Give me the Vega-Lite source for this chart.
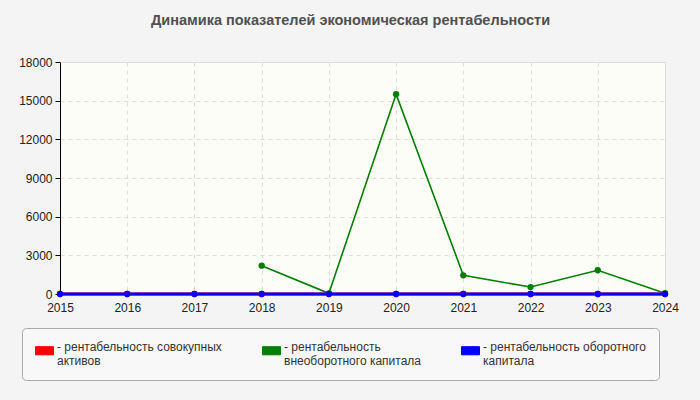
{
  "$schema": "https://vega.github.io/schema/vega-lite/v6.json",
  "autosize": {"type": "none"},
  "width": 605,
  "height": 232,
  "padding": {"left": 60, "top": 62, "right": 35, "bottom": 106},
  "background": "#f4f4f4",
  "title": {
    "text": "Динамика показателей экономическая рентабельности",
    "font": "Liberation Sans",
    "fontSize": 14.5,
    "fontWeight": "bold",
    "color": "#505050",
    "anchor": "middle",
    "dx": -12,
    "offset": 28
  },
  "data": {
    "values": [
      {"year": "2015", "series": "рентабельность совокупных активов", "value": 0},
      {"year": "2016", "series": "рентабельность совокупных активов", "value": 0},
      {"year": "2017", "series": "рентабельность совокупных активов", "value": 0},
      {"year": "2018", "series": "рентабельность совокупных активов", "value": 0},
      {"year": "2019", "series": "рентабельность совокупных активов", "value": 0},
      {"year": "2020", "series": "рентабельность совокупных активов", "value": 0},
      {"year": "2021", "series": "рентабельность совокупных активов", "value": 0},
      {"year": "2022", "series": "рентабельность совокупных активов", "value": 0},
      {"year": "2023", "series": "рентабельность совокупных активов", "value": 0},
      {"year": "2024", "series": "рентабельность совокупных активов", "value": 0},
      {"year": "2018", "series": "рентабельность внеоборотного капитала", "value": 2200},
      {"year": "2019", "series": "рентабельность внеоборотного капитала", "value": 50},
      {"year": "2020", "series": "рентабельность внеоборотного капитала", "value": 15500},
      {"year": "2021", "series": "рентабельность внеоборотного капитала", "value": 1450},
      {"year": "2022", "series": "рентабельность внеоборотного капитала", "value": 540},
      {"year": "2023", "series": "рентабельность внеоборотного капитала", "value": 1840},
      {"year": "2024", "series": "рентабельность внеоборотного капитала", "value": 60},
      {"year": "2015", "series": "рентабельность оборотного капитала", "value": 0},
      {"year": "2016", "series": "рентабельность оборотного капитала", "value": 0},
      {"year": "2017", "series": "рентабельность оборотного капитала", "value": 0},
      {"year": "2018", "series": "рентабельность оборотного капитала", "value": 0},
      {"year": "2019", "series": "рентабельность оборотного капитала", "value": 0},
      {"year": "2020", "series": "рентабельность оборотного капитала", "value": 0},
      {"year": "2021", "series": "рентабельность оборотного капитала", "value": 0},
      {"year": "2022", "series": "рентабельность оборотного капитала", "value": 0},
      {"year": "2023", "series": "рентабельность оборотного капитала", "value": 0},
      {"year": "2024", "series": "рентабельность оборотного капитала", "value": 0}
    ]
  },
  "encoding": {
    "x": {
      "field": "year",
      "type": "ordinal",
      "scale": {"type": "point", "padding": 0},
      "axis": {
        "title": null,
        "labelAngle": 0,
        "grid": true,
        "gridDash": [4, 4],
        "gridColor": "#dddddd",
        "domain": false,
        "ticks": false,
        "labelPadding": 8
      }
    },
    "y": {
      "field": "value",
      "type": "quantitative",
      "scale": {"domain": [0, 18000], "nice": false},
      "axis": {
        "title": null,
        "values": [0, 3000, 6000, 9000, 12000, 15000, 18000],
        "format": "d",
        "gridDash": [4, 4],
        "gridColor": "#dddddd",
        "domainColor": "#000000",
        "tickColor": "#000000",
        "tickSize": 5,
        "labelPadding": 3
      }
    },
    "color": {
      "field": "series",
      "type": "nominal",
      "scale": {
        "domain": ["рентабельность совокупных активов", "рентабельность внеоборотного капитала", "рентабельность оборотного капитала"],
        "range": ["#ff0000", "#008000", "#0000ff"]
      },
      "legend": {
        "title": null,
        "orient": "none",
        "legendX": -38,
        "legendY": 266,
        "direction": "horizontal",
        "columns": 3,
        "columnPadding": 38,
        "padding": 13,
        "fillColor": "#f8f8f8",
        "strokeColor": "#aaaaaa",
        "cornerRadius": 4,
        "symbolType": "M-1,-0.45H1V0.45H-1Z",
        "symbolSize": 324,
        "symbolStrokeColor": "#444444",
        "symbolStrokeWidth": 1,
        "symbolOpacity": 1,
        "labelOffset": 3,
        "labelBaseline": "alphabetic",
        "labelFont": "Liberation Sans",
        "labelFontSize": 12,
        "labelColor": "#333333",
        "labelLimit": 300,
        "labelExpr": "datum.label == 'рентабельность совокупных активов' ? ['- рентабельность совокупных', '\u00a0\u00a0активов'] : datum.label == 'рентабельность внеоборотного капитала' ? ['- рентабельность', '\u00a0\u00a0внеоборотного капитала'] : ['- рентабельность оборотного', '\u00a0\u00a0капитала']"
      }
    }
  },
  "layer": [
    {
      "transform": [{"filter": "datum.series == 'рентабельность совокупных активов'"}],
      "mark": {"type": "line", "strokeWidth": 3}
    },
    {
      "transform": [{"filter": "datum.series == 'рентабельность внеоборотного капитала'"}],
      "mark": {"type": "line", "strokeWidth": 1.6}
    },
    {
      "transform": [{"filter": "datum.series == 'рентабельность оборотного капитала'"}],
      "mark": {"type": "line", "strokeWidth": 3}
    },
    {
      "mark": {"type": "point", "filled": true, "size": 40, "opacity": 1}
    }
  ],
  "config": {
    "view": {"fill": "#fdfdf8", "stroke": "#dddddd"},
    "axis": {
      "labelFont": "Liberation Sans",
      "labelFontSize": 12,
      "labelColor": "#222222"
    }
  }
}
